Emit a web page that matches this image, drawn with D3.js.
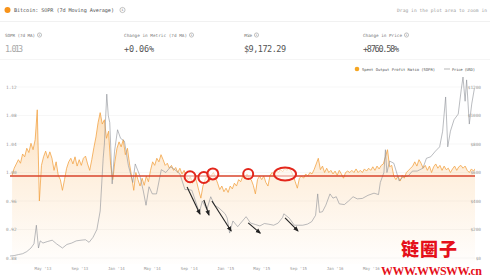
<!DOCTYPE html>
<html>
<head>
<meta charset="utf-8">
<script src="https://cdn.jsdelivr.net/npm/d3@7"></script>
<style>
body { margin: 0; background: #fff; }
svg { display: block; font-family: "DejaVu Sans Mono", monospace; }
</style>
</head>
<body>
<svg id="chart" width="490" height="279"></svg>
<script>
// SOPR (7d MA), one reading per week starting at soprStart
var soprStart = "2013-01-18";
var soprValues = [
	0.996, 1.006, 1.012, 1.018, 1.013, 1.026, 1.022, 1.034, 1.028, 1.041,
	1.032, 1.046, 1.088, 0.960, 1.010, 1.022, 1.030, 1.020, 1.029, 1.020,
	1.003, 1.015, 0.996, 0.990, 0.975, 0.990, 1.006, 1.015, 1.020, 1.012,
	1.022, 1.009, 1.018, 1.010, 1.020, 1.023, 1.012, 1.003, 1.018, 1.035,
	1.050, 1.070, 1.084, 1.068, 1.074, 1.048, 1.058, 1.010, 0.990, 1.015,
	1.034, 1.043, 1.036, 1.046, 1.025, 1.034, 1.012, 0.994, 0.975, 1.000,
	0.990, 0.981, 0.992, 0.982, 0.995, 0.987, 1.003, 1.015, 1.010, 1.020,
	1.015, 1.025, 1.018, 1.010, 1.013, 1.006, 1.010, 1.003, 1.007, 1.000,
	1.006, 0.998, 1.003, 0.995, 0.990, 0.994, 0.985, 0.995, 0.987, 0.975,
	0.964, 0.981, 0.990, 0.995, 0.987, 0.996, 1.000, 0.993, 0.985, 0.976,
	0.981, 0.973, 0.978, 0.972, 0.981, 0.977, 0.985, 0.981, 0.990, 0.987,
	0.995, 0.991, 0.998, 0.992, 0.990, 0.982, 0.970, 0.990, 0.995, 0.990,
	0.995, 0.986, 0.981, 0.996, 1.000, 0.997, 1.002, 1.000, 1.004, 1.001,
	1.006, 1.003, 1.006, 1.002, 0.996, 0.987, 0.978, 0.992, 0.995, 0.992,
	0.998, 0.995, 1.000, 0.998, 1.004, 1.012, 1.020, 1.004, 1.009, 1.000,
	1.006, 1.000, 1.003, 0.998, 1.002, 0.996, 1.003, 0.998, 0.992, 1.000,
	1.002, 1.000, 1.003, 1.000, 1.005, 1.000, 1.003, 1.000, 1.005, 1.002,
	1.006, 1.003, 1.008, 1.003, 1.009, 1.005, 1.010, 1.012, 1.022, 1.032,
	1.008, 1.010, 0.995, 0.990, 0.995, 0.988, 0.996, 0.992, 1.000, 1.003,
	1.006, 1.009, 1.015, 1.009, 1.018, 1.013, 1.006, 1.010, 1.003, 1.009,
	1.000, 1.008, 1.012, 1.006, 1.010, 1.003, 1.009, 1.004, 1.006, 1.000,
	1.005, 1.009, 1.003, 1.008, 1.010, 1.006, 1.009, 1.003, 1.000, 1.005,
	1.002, 1.006
];

// BTC price (USD)
var priceData = [
	["2013-01-11", 14], ["2013-01-25", 17], ["2013-02-08", 24], ["2013-02-22", 30],
	["2013-03-08", 45], ["2013-03-22", 70], ["2013-04-01", 100], ["2013-04-09", 230],
	["2013-04-16", 70], ["2013-04-22", 120], ["2013-05-01", 105], ["2013-05-15", 115],
	["2013-06-01", 125], ["2013-06-15", 100], ["2013-07-05", 70], ["2013-07-20", 95],
	["2013-08-05", 105], ["2013-08-20", 120], ["2013-09-05", 125], ["2013-09-20", 128],
	["2013-10-02", 110], ["2013-10-15", 145], ["2013-10-28", 200], ["2013-11-08", 330],
	["2013-11-18", 700], ["2013-11-22", 800], ["2013-11-30", 1150], ["2013-12-05", 1000],
	["2013-12-10", 950], ["2013-12-18", 520], ["2013-12-26", 750], ["2014-01-05", 900],
	["2014-01-15", 840], ["2014-01-28", 820], ["2014-02-10", 650], ["2014-02-25", 530],
	["2014-03-05", 660], ["2014-03-20", 580], ["2014-04-01", 470], ["2014-04-10", 370],
	["2014-04-20", 500], ["2014-05-01", 450], ["2014-05-15", 450], ["2014-05-31", 620],
	["2014-06-15", 600], ["2014-07-01", 640], ["2014-07-15", 620], ["2014-08-01", 590],
	["2014-08-18", 480], ["2014-09-01", 480], ["2014-09-10", 475], ["2014-09-22", 400],
	["2014-10-05", 320], ["2014-10-15", 400], ["2014-10-30", 340], ["2014-11-12", 430],
	["2014-11-25", 370], ["2014-12-10", 350], ["2014-12-30", 310], ["2015-01-06", 280],
	["2015-01-14", 175], ["2015-01-25", 260], ["2015-02-10", 220], ["2015-02-20", 245],
	["2015-03-10", 290], ["2015-03-25", 245], ["2015-04-10", 235], ["2015-04-25", 225],
	["2015-05-10", 242], ["2015-05-25", 237], ["2015-06-10", 230], ["2015-06-25", 245],
	["2015-07-10", 285], ["2015-07-14", 310], ["2015-08-01", 280], ["2015-08-18", 230],
	["2015-09-01", 230], ["2015-09-15", 230], ["2015-10-01", 238], ["2015-10-15", 255],
	["2015-10-28", 300], ["2015-11-04", 450], ["2015-11-10", 320], ["2015-11-20", 325],
	["2015-12-01", 370], ["2015-12-15", 450], ["2015-12-25", 420], ["2016-01-05", 430],
	["2016-01-15", 380], ["2016-02-01", 375], ["2016-02-15", 400], ["2016-03-01", 430],
	["2016-03-15", 415], ["2016-04-01", 418], ["2016-04-20", 440], ["2016-05-10", 455],
	["2016-05-25", 445], ["2016-05-31", 530], ["2016-06-12", 600], ["2016-06-17", 760],
	["2016-06-22", 600], ["2016-07-01", 680], ["2016-07-15", 665], ["2016-08-02", 540],
	["2016-08-15", 570], ["2016-09-01", 575], ["2016-09-15", 610], ["2016-10-01", 610],
	["2016-10-20", 630], ["2016-11-01", 700], ["2016-11-15", 710], ["2016-12-01", 750],
	["2016-12-15", 780], ["2016-12-25", 890], ["2017-01-04", 1130], ["2017-01-11", 780],
	["2017-01-20", 890], ["2017-02-01", 970], ["2017-02-15", 1010], ["2017-02-25", 1180],
	["2017-03-03", 1270], ["2017-03-10", 1100], ["2017-03-15", 1250], ["2017-03-24", 940],
	["2017-04-01", 1080], ["2017-04-10", 1190]
];

var soprTicks = [0.88, 0.92, 0.96, 1.00, 1.04, 1.08, 1.12];
var priceTicks = [0, 200, 400, 600, 800, 1000, 1200];
// later month labels sit under the watermark in the screenshot
var monthTicks = ["2013-05-01", "2013-09-01", "2014-01-01", "2014-05-01", "2014-09-01", "2015-01-01",
	"2015-05-01", "2015-09-01", "2016-01-01", "2016-05-01"];

var stats = [
	{label: "SOPR (7d MA)", value: "1.013"},
	{label: "Change in Metric (7d MA)", value: "+0.06%"},
	{label: "Price", value: "$9,172.29"},
	{label: "Change in Price", value: "+8760.58%"}
];

// hand-drawn annotations on the screenshot
var refLevel = 0.995;
var circleMarks = [
	["2014-09-04", 0.994, 5.5, 5.5], ["2014-10-20", 0.993, 5.5, 5.5], ["2014-11-19", 0.998, 5.5, 5.5],
	["2015-03-17", 0.998, 5, 5], ["2015-07-18", 0.998, 11, 6.5]
];
var arrowMarks = [
	["2014-08-25", 498, "2014-10-07", 309],
	["2014-10-20", 407, "2014-11-06", 302],
	["2014-11-16", 400, "2015-01-19", 190],
	["2015-03-17", 246, "2015-04-26", 175],
	["2015-07-18", 281, "2015-08-30", 190]
];

var parse = d3.timeParse("%Y-%m-%d");
var svg = d3.select("#chart");

var plot = {left: 10, right: 475, top: 76, bottom: 264};

var x = d3.scaleTime()
	.domain([parse("2013-01-11"), parse("2017-04-12")])
	.range([plot.left, plot.right]);
var y = d3.scaleLinear().domain([0.88, 1.12]).range([258, 87]);
var yPrice = d3.scaleLinear().domain([0, 1200]).range([258, 87]);

var sopr = soprValues.map(function(v, i) {
	return {date: d3.timeDay.offset(parse(soprStart), i * 7), value: v};
});
var price = priceData.map(function(d) { return {date: parse(d[0]), value: d[1]}; });

// header
svg.append("circle").attr("cx", 7.5).attr("cy", 10).attr("r", 3).attr("fill", "#f7931a");
svg.append("text").attr("x", 14).attr("y", 12)
	.attr("font-size", 5.2).attr("fill", "#555")
	.attr("textLength", 100).text("Bitcoin: SOPR (7d Moving Average)");
infoIcon(122.5, 10, 2.6);
svg.append("text").attr("x", 487).attr("y", 12)
	.attr("text-anchor", "end").attr("font-size", 4.6).attr("fill", "#999")
	.attr("textLength", 90).text("Drag in the plot area to zoom in");

svg.append("line").attr("x1", 0).attr("x2", 490).attr("y1", 21.5).attr("y2", 21.5)
	.attr("stroke", "#eee").attr("stroke-width", 0.8);
svg.append("line").attr("x1", 0).attr("x2", 490).attr("y1", 59.5).attr("y2", 59.5)
	.attr("stroke", "#f2f2f2").attr("stroke-width", 0.8);

var statX = [5, 124, 244, 363],
		labelW = [30, 63, 8, 39],
		valueW = [18, 30, 42, 36];
stats.forEach(function(s, i) {
	svg.append("text").attr("x", statX[i]).attr("y", 36.5)
		.attr("font-size", 4.3).attr("fill", "#777")
		.attr("textLength", labelW[i]).text(s.label);
	infoIcon(statX[i] + labelW[i] + 4.5, 35, 2.1);
	svg.append("text").attr("x", statX[i]).attr("y", 51.5)
		.attr("font-size", 8.5).attr("fill", i == 0 ? "#aaa" : "#555")
		.attr("textLength", valueW[i]).text(s.value);
});

function infoIcon(cx, cy, r) {
	svg.append("circle").attr("cx", cx).attr("cy", cy).attr("r", r)
		.attr("fill", "none").attr("stroke", "#888").attr("stroke-width", 0.5);
	svg.append("text").attr("x", cx).attr("y", cy + r * 0.55)
		.attr("text-anchor", "middle").attr("font-size", r * 1.5).attr("fill", "#888").text("i");
}

// legend
svg.append("circle").attr("cx", 357).attr("cy", 69).attr("r", 2.3).attr("fill", "#f5a623");
svg.append("text").attr("x", 362).attr("y", 70.5)
	.attr("font-size", 3.9).attr("fill", "#555")
	.attr("textLength", 73).text("Spent Output Profit Ratio (SOPR)");
svg.append("line").attr("x1", 444).attr("x2", 450).attr("y1", 69).attr("y2", 69)
	.attr("stroke", "#888").attr("stroke-width", 0.6);
svg.append("text").attr("x", 452).attr("y", 70.5)
	.attr("font-size", 3.9).attr("fill", "#555")
	.attr("textLength", 23).text("Price (USD)");

// grid
svg.append("g").selectAll("line").data(soprTicks).join("line")
	.attr("x1", plot.left).attr("x2", plot.right)
	.attr("y1", function(d) { return y(d); }).attr("y2", function(d) { return y(d); })
	.attr("stroke", "#f1f1f1").attr("stroke-width", 0.6);

var defs = svg.append("defs");
defs.append("clipPath").attr("id", "clip").append("rect")
	.attr("x", plot.left).attr("y", plot.top)
	.attr("width", plot.right - plot.left).attr("height", plot.bottom - plot.top);
var grad = defs.append("linearGradient").attr("id", "fillGrad")
	.attr("gradientUnits", "userSpaceOnUse")
	.attr("x1", 0).attr("x2", 0).attr("y1", 95).attr("y2", plot.bottom);
grad.append("stop").attr("offset", 0).attr("stop-color", "#f7931a").attr("stop-opacity", 0.32);
grad.append("stop").attr("offset", 0.45).attr("stop-color", "#f7931a").attr("stop-opacity", 0.15);
grad.append("stop").attr("offset", 1).attr("stop-color", "#f7931a").attr("stop-opacity", 0.01);

var g = svg.append("g").attr("clip-path", "url(#clip)");

var area = d3.area()
	.x(function(d) { return x(d.date); })
	.y0(plot.bottom)
	.y1(function(d) { return y(d.value); });
var soprLine = d3.line()
	.x(function(d) { return x(d.date); })
	.y(function(d) { return y(d.value); });
var priceLine = d3.line()
	.x(function(d) { return x(d.date); })
	.y(function(d) { return yPrice(d.value); });

g.append("path").datum(sopr).attr("d", area).attr("fill", "url(#fillGrad)");

// axis labels
svg.append("g").selectAll("text").data(soprTicks).join("text")
	.attr("x", 6).attr("y", function(d) { return y(d) + 1.5; })
	.attr("font-size", 4.4).attr("fill", "#999")
	.text(function(d) { return d.toFixed(2); });
svg.append("g").selectAll("text").data(priceTicks).join("text")
	.attr("x", 481).attr("y", function(d) { return yPrice(d) + 1.5; })
	.attr("text-anchor", "end").attr("font-size", 4.4).attr("fill", "#999")
	.text(function(d) { return "$" + d; });
svg.append("g").selectAll("text").data(monthTicks).join("text")
	.attr("x", function(d) { return x(parse(d)); }).attr("y", 269.5)
	.attr("text-anchor", "middle").attr("font-size", 4.0).attr("fill", "#999")
	.text(function(d) { return d3.timeFormat("%b '%y")(parse(d)); });

g.append("path").datum(sopr).attr("d", soprLine)
	.attr("fill", "none").attr("stroke", "#f3a447").attr("stroke-width", 0.8);
g.append("path").datum(price).attr("d", priceLine)
	.attr("fill", "none").attr("stroke", "#8b8f96").attr("stroke-width", 0.6);

// annotations
svg.append("line")
	.attr("x1", plot.left).attr("x2", plot.right)
	.attr("y1", y(refLevel)).attr("y2", y(refLevel))
	.attr("stroke", "#d9442c").attr("stroke-width", 1.6);

svg.append("g").selectAll("ellipse").data(circleMarks).join("ellipse")
	.attr("cx", function(d) { return x(parse(d[0])); })
	.attr("cy", function(d) { return y(d[1]); })
	.attr("rx", function(d) { return d[2]; })
	.attr("ry", function(d) { return d[3]; })
	.attr("fill", "rgba(255,255,255,0.55)")
	.attr("stroke", "#e3261b").attr("stroke-width", 2);

defs.append("marker").attr("id", "arrow")
	.attr("viewBox", "0 0 10 10").attr("refX", 8).attr("refY", 5)
	.attr("markerWidth", 5).attr("markerHeight", 5).attr("orient", "auto")
	.append("path").attr("d", "M0,1 L10,5 L0,9 Z").attr("fill", "#222");

svg.append("g").selectAll("line").data(arrowMarks).join("line")
	.attr("x1", function(d) { return x(parse(d[0])); })
	.attr("y1", function(d) { return yPrice(d[1]); })
	.attr("x2", function(d) { return x(parse(d[2])); })
	.attr("y2", function(d) { return yPrice(d[3]); })
	.attr("stroke", "#222").attr("stroke-width", 1.1)
	.attr("marker-end", "url(#arrow)");

// watermark
svg.append("text").attr("x", 401).attr("y", 256)
	.attr("font-family", "Noto Sans CJK SC").attr("font-weight", 900)
	.attr("font-size", 18).attr("fill", "#e5101a")
	.attr("textLength", 56).text("链圈子");
svg.append("text").attr("x", 381).attr("y", 275)
	.attr("font-family", "Liberation Serif").attr("font-weight", "bold")
	.attr("font-size", 12).attr("fill", "#e5101a")
	.attr("stroke", "#fff").attr("stroke-width", 1.2).attr("paint-order", "stroke")
	.attr("textLength", 101).text("WWW.WWSWW.cn");
</script>
</body>
</html>
